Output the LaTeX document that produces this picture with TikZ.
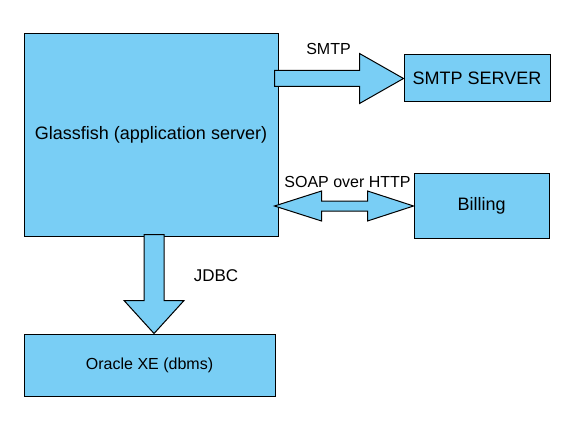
\documentclass[tikz,border=0pt]{standalone}
\usepackage{fontspec}
\setmainfont{Liberation Sans}
\usetikzlibrary{positioning,calc}
\definecolor{boxblue}{RGB}{121,206,245}
\tikzset{box/.style={draw,fill=boxblue,line width=0.75pt,inner sep=0pt}}
\tikzset{bigarrow/.style={draw,fill=boxblue,line width=0.75pt,line join=miter}}

\begin{document}
\begin{tikzpicture}[x=0.75pt,y=-0.75pt,on grid]
   \useasboundingbox (0,0) rectangle (584,438);
   \node[box,minimum width=190.5pt,minimum height=151.5pt,font=\fontsize{13.5}{16}\selectfont] (glass) at (151,135) {Glassfish (application server)};
   \node[box,minimum width=109.5pt,minimum height=35.25pt,font=\fontsize{13.5}{16}\selectfont] (smtp) [above right=42.375pt and 244.5pt of glass] {SMTP SERVER};
   \node[box,minimum width=101.25pt,minimum height=48pt,font=\fontsize{13.5}{16}\selectfont] (billing) [below right=53.25pt and 247.9pt of glass] {Billing};
   \node[box,minimum width=188.25pt,minimum height=46.5pt,font=\fontsize{12}{14}\selectfont] (oracle) [below=172.5pt of glass,xshift=-1.1pt] {Oracle XE (dbms)};
   % SMTP arrow
   \coordinate (smtpTail) at ($(glass.east |- smtp.west)+(-4,0)$);
   \draw[bigarrow] ($(smtpTail)+(0,-8)$) -- ($(smtp.west)+(-44,-8)$) -- ($(smtp.west)+(-44,-25)$)
      -- (smtp.west) -- ($(smtp.west)+(-44,25)$) -- ($(smtp.west)+(-44,8)$) -- ($(smtpTail)+(0,8)$) -- cycle;
   % SOAP arrow
   \coordinate (soapL) at ($(glass.east |- billing.west)+(-4,0)$);
   \draw[bigarrow] (soapL) -- ($(soapL)+(47,-15)$) -- ($(soapL)+(47,-5)$) -- ($(billing.west)+(-46,-5)$)
      -- ($(billing.west)+(-46,-15)$) -- (billing.west) -- ($(billing.west)+(-46,15)$) -- ($(billing.west)+(-46,5)$)
      -- ($(soapL)+(47,5)$) -- ($(soapL)+(47,15)$) -- cycle;
   % JDBC arrow
   \coordinate (jdbcTip) at ($(oracle.north)+(4.5,0)$);
   \coordinate (jdbcTop) at ($(jdbcTip |- glass.south)+(0,-2)$);
   \draw[bigarrow] ($(jdbcTop)+(-10,0)$) -- ($(jdbcTop)+(10,0)$) -- ($(jdbcTip)+(10,-33)$) -- ($(jdbcTip)+(30,-33)$)
      -- (jdbcTip) -- ($(jdbcTip)+(-30,-33)$) -- ($(jdbcTip)+(-10,-33)$) -- cycle;
   % labels
   \node[font=\fontsize{12}{14}\selectfont] (smtpLabel) at ($(smtp.west)+(-75,-29.5)$) {SMTP};
   \node[anchor=base,font=\fontsize{12}{14}\selectfont] (soapLabel) at ($(billing.west)+(-66,-19)$) {SOAP over HTTP};
   \node[anchor=base,font=\fontsize{12.75}{15}\selectfont] (jdbcLabel) at ($(oracle.north)+(66.5,-52)$) {JDBC};
\end{tikzpicture}
\end{document}
